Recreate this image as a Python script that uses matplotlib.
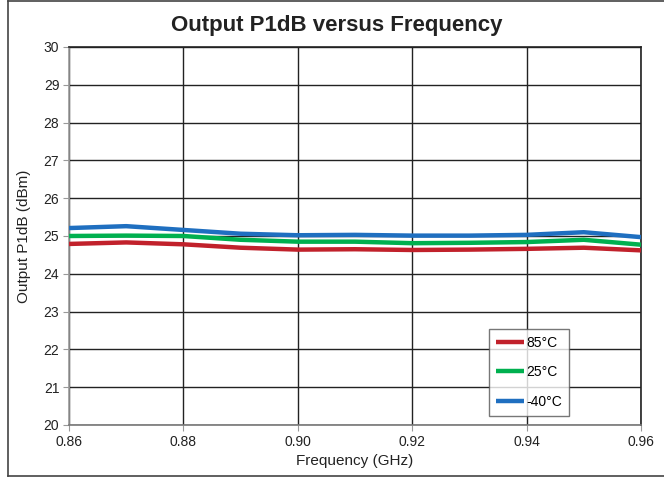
import matplotlib
matplotlib.use('Agg')
import matplotlib.pyplot as plt
from matplotlib.lines import Line2D

plt.rcParams['font.family'] = ['Liberation Sans', 'DejaVu Sans']

# Frequency points (GHz)
freq = [0.86, 0.87, 0.88, 0.89, 0.90, 0.91, 0.92, 0.93, 0.94, 0.95, 0.96]

# Output P1dB (dBm) at each temperature
p1db_85 = [24.79, 24.83, 24.78, 24.69, 24.64, 24.65, 24.63, 24.64, 24.66, 24.69, 24.62]
p1db_25 = [25.00, 25.01, 25.00, 24.90, 24.85, 24.85, 24.81, 24.82, 24.84, 24.90, 24.77]
p1db_m40 = [25.21, 25.26, 25.16, 25.06, 25.02, 25.03, 25.01, 25.01, 25.03, 25.10, 24.97]

labels = ['85°C', '25°C', '-40°C']
colors = ['#C1212B', '#00B04F', '#1F6FC0']

xticks = [0.86, 0.88, 0.90, 0.92, 0.94, 0.96]
yticks = list(range(20, 31))

fig = plt.figure(figsize=(6.64, 4.78), dpi=100)
ax = fig.add_axes([69 / 664, 1 - 425 / 478, (641 - 69) / 664, (425 - 47) / 478])

for series, lab, col in zip([p1db_85, p1db_25, p1db_m40], labels, colors):
    ax.plot(freq, series, color=col, linewidth=3.2, label=lab, solid_capstyle='butt', zorder=3)

ax.set_xlim(0.86, 0.96)
ax.set_ylim(20, 30)
ax.set_xticks(xticks)
ax.set_xticklabels([f'{t:.2f}' for t in xticks])
ax.set_yticks(yticks)
ax.grid(True, color='#222222', linewidth=1.0)
ax.set_axisbelow(True)

# Axis styling: gray left/bottom, black top/right
ax.spines['left'].set_color('#999999')
ax.spines['bottom'].set_color('#777777')
ax.spines['top'].set_color('#222222')
ax.spines['right'].set_color('#222222')
for s in ax.spines.values():
    s.set_linewidth(1.2)
ax.tick_params(axis='both', direction='out', length=4, width=0.8, color='#999999',
               labelsize=10, labelcolor='#222222', pad=3)

ax.set_xlabel('Frequency (GHz)', fontsize=11, color='#222222', labelpad=4)
ax.set_ylabel('Output P1dB (dBm)', fontsize=11, color='#222222', labelpad=9)
fig.text(337 / 664, 1 - 25 / 478, 'Output P1dB versus Frequency', ha='center', va='center',
         fontsize=16, fontweight='bold', color='#222222')

handles = [Line2D([0], [0], color=c, linewidth=3.2, solid_capstyle='butt') for c in colors]
leg = ax.legend(handles, labels, loc='lower left', bbox_to_anchor=(0.735, 0.025),
                fontsize=10, frameon=True, fancybox=False, handlelength=2.0,
                handletextpad=0.15, labelspacing=1.1, borderpad=0.5, borderaxespad=0)
leg.get_frame().set_edgecolor('#555555')
leg.get_frame().set_linewidth(1.0)

# Outer frame around the figure
for xs, ys in [([8, 8], [1, 476]), ([8, 664], [1, 1]), ([8, 664], [476, 476])]:
    fig.add_artist(Line2D([x / 664 for x in xs], [1 - y / 478 for y in ys],
                          color='#444444', linewidth=1.2))

fig.savefig('out.png', dpi=100)
